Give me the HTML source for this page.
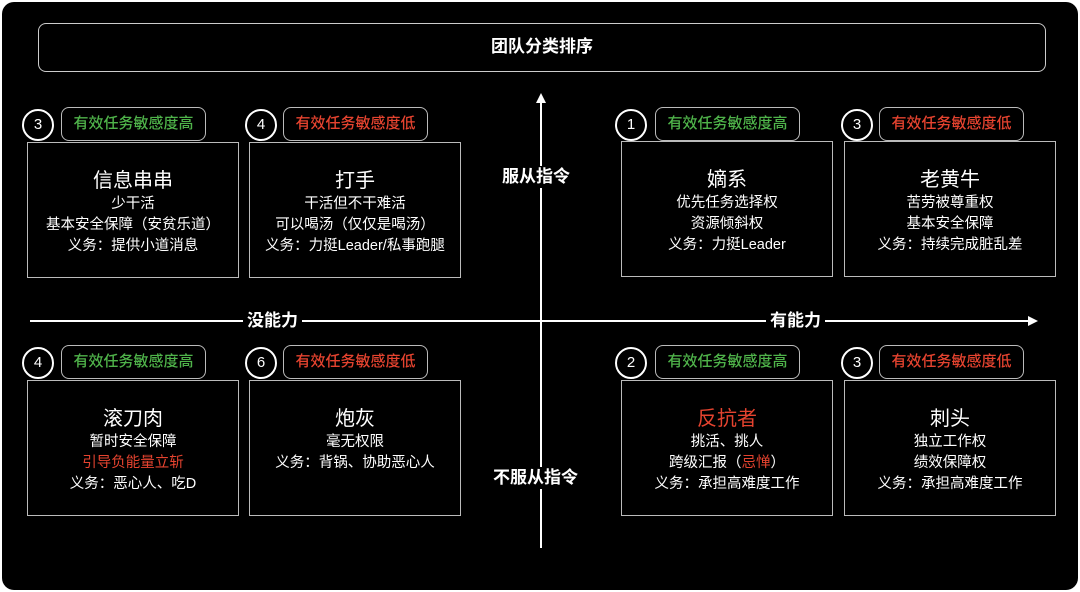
<!DOCTYPE html>
<html><head><meta charset="utf-8"><style>
body{margin:0;width:1080px;height:592px;background:#fff;overflow:hidden;font-family:"Liberation Sans","Noto Sans CJK SC",sans-serif;}
#bg{position:absolute;left:2px;top:2px;width:1076px;height:588px;background:#000;border-radius:12px;}
.abs{position:absolute;}
.box{position:absolute;width:212px;height:136px;border:1.5px solid #bbb;box-sizing:border-box;color:#fff;text-align:center;}
.box .t{font-size:20px;margin-top:25px;line-height:26px;}
.box .l{font-size:14.5px;line-height:21px;}
.circ{position:absolute;width:32px;height:32px;border:2.5px solid #fff;border-radius:50%;box-sizing:border-box;color:#fff;font-size:15px;line-height:27px;text-align:center;background:#000;}
.pill{position:absolute;width:145px;height:34px;border:1.5px solid #bbb;border-radius:8px;box-sizing:border-box;font-size:15px;font-weight:500;line-height:31px;text-align:center;background:#000;}
.g{color:#4fb34a}.r{color:#e5432f}
.lab{position:absolute;color:#fff;font-size:17px;font-weight:bold;background:#000;padding:0 4px;line-height:22px;}
</style></head><body>
<div id="bg"></div>
<div class="abs" style="left:38px;top:23px;width:1008px;height:49px;border:1.5px solid #ccc;border-radius:8px;box-sizing:border-box;color:#fff;font-size:17px;font-weight:bold;text-align:center;line-height:46px;">团队分类排序</div>
<svg class="abs" style="left:0;top:0" width="1080" height="592">
<line x1="30" y1="321" x2="1030" y2="321" stroke="#fff" stroke-width="2"/>
<polygon points="1038,321 1028,316 1028,326" fill="#fff"/>
<line x1="541" y1="102" x2="541" y2="548" stroke="#fff" stroke-width="2"/>
<polygon points="541,93 536,103 546,103" fill="#fff"/>
</svg>
<div class="lab" style="left:243px;top:310px">没能力</div>
<div class="lab" style="left:766px;top:310px">有能力</div>
<div class="lab" style="left:498px;top:166px">服从指令</div>
<div class="lab" style="left:489px;top:467px">不服从指令</div>

<div class="box" style="left:27px;top:142px"><div class="t">信息串串</div><div class="l">少干活</div><div class="l">基本安全保障（安贫乐道）</div><div class="l">义务：提供小道消息</div></div>
<div class="circ" style="left:22px;top:109px">3</div><div class="pill g" style="left:61px;top:107px">有效任务敏感度高</div>

<div class="box" style="left:249px;top:142px"><div class="t">打手</div><div class="l">干活但不干难活</div><div class="l">可以喝汤（仅仅是喝汤）</div><div class="l">义务：力挺Leader/私事跑腿</div></div>
<div class="circ" style="left:245px;top:109px">4</div><div class="pill r" style="left:283px;top:107px">有效任务敏感度低</div>

<div class="box" style="left:621px;top:141px"><div class="t">嫡系</div><div class="l">优先任务选择权</div><div class="l">资源倾斜权</div><div class="l">义务：力挺Leader</div></div>
<div class="circ" style="left:615px;top:109px">1</div><div class="pill g" style="left:655px;top:107px">有效任务敏感度高</div>

<div class="box" style="left:844px;top:141px"><div class="t">老黄牛</div><div class="l">苦劳被尊重权</div><div class="l">基本安全保障</div><div class="l">义务：持续完成脏乱差</div></div>
<div class="circ" style="left:841px;top:109px">3</div><div class="pill r" style="left:879px;top:107px">有效任务敏感度低</div>

<div class="box" style="left:27px;top:380px"><div class="t">滚刀肉</div><div class="l">暂时安全保障</div><div class="l r">引导负能量立斩</div><div class="l">义务：恶心人、吃D</div></div>
<div class="circ" style="left:22px;top:347px">4</div><div class="pill g" style="left:61px;top:345px">有效任务敏感度高</div>

<div class="box" style="left:249px;top:380px"><div class="t">炮灰</div><div class="l">毫无权限</div><div class="l">义务：背锅、协助恶心人</div></div>
<div class="circ" style="left:245px;top:347px">6</div><div class="pill r" style="left:283px;top:345px">有效任务敏感度低</div>

<div class="box" style="left:621px;top:380px"><div class="t r">反抗者</div><div class="l">挑活、挑人</div><div class="l">跨级汇报（<span class="r">忌惮</span>）</div><div class="l">义务：承担高难度工作</div></div>
<div class="circ" style="left:615px;top:347px">2</div><div class="pill g" style="left:655px;top:345px">有效任务敏感度高</div>

<div class="box" style="left:844px;top:380px"><div class="t">刺头</div><div class="l">独立工作权</div><div class="l">绩效保障权</div><div class="l">义务：承担高难度工作</div></div>
<div class="circ" style="left:841px;top:347px">3</div><div class="pill r" style="left:879px;top:345px">有效任务敏感度低</div>
</body></html>
